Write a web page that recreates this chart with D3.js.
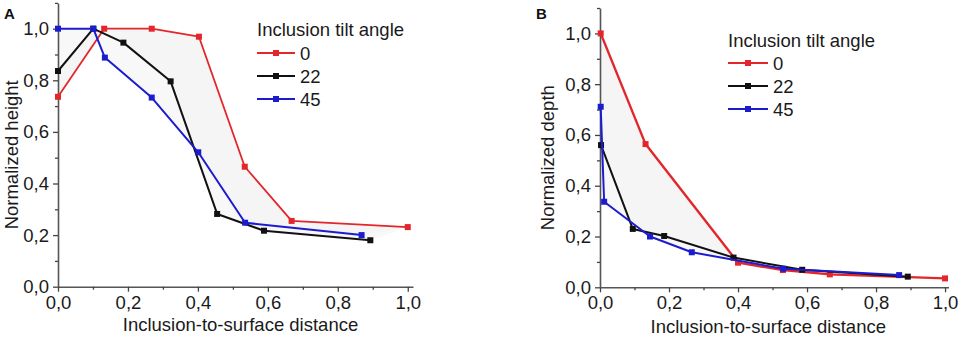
<!DOCTYPE html>
<html><head><meta charset="utf-8">
<script src="https://cdn.jsdelivr.net/npm/d3@7"></script>
<style>body{margin:0;background:#fff}svg{display:block}text{font-family:"Liberation Sans",Arial,sans-serif}</style>
</head><body>
<svg id="c" width="960" height="337"></svg>
<script>
const seriesNames = ["0", "22", "45"];
const seriesColors = ["#e3262b", "#111111", "#1c1ccf"];
const xTicks = [0, 0.2, 0.4, 0.6, 0.8, 1.0];
const yTicks = [0, 0.2, 0.4, 0.6, 0.8, 1.0];
const xMinor = [0.1, 0.3, 0.5, 0.7, 0.9];
const yMinor = [0.1, 0.3, 0.5, 0.7, 0.9, 1.1];

// Panel A: normalized height
const aX0 = [0, 0.132, 0.268, 0.403, 0.534, 0.668, 1.0];
const aY0 = [0.736, 1.0, 1.0, 0.969, 0.465, 0.255, 0.231];
const aX22 = [0, 0.101, 0.187, 0.322, 0.455, 0.589, 0.893];
const aY22 = [0.836, 1.0, 0.946, 0.796, 0.282, 0.217, 0.18];
const aX45 = [0, 0.101, 0.134, 0.268, 0.401, 0.535, 0.868];
const aY45 = [1.0, 1.0, 0.888, 0.733, 0.521, 0.248, 0.2];

// Panel B: normalized depth
const bX0 = [0.002, 0.132, 0.4, 0.53, 0.666, 1.0];
const bY0 = [1.0, 0.564, 0.097, 0.068, 0.051, 0.035];
const bX22 = [0.003, 0.095, 0.186, 0.387, 0.586, 0.892];
const bY22 = [0.56, 0.23, 0.202, 0.117, 0.069, 0.042];
const bX45 = [0.002, 0.012, 0.145, 0.266, 0.531, 0.867];
const bY45 = [0.711, 0.337, 0.2, 0.138, 0.073, 0.048];

const fmt = d => d3.format(".1f")(d).replace(".", ",");
const svg = d3.select("#c");

function zip(xs, ys){ return xs.map((x,i)=>[x, ys[i]]); }

function panel(cfg){
  const g = svg.append("g");
  const x = d3.scaleLinear().domain([0, cfg.xMax]).range(cfg.xr);
  const y = d3.scaleLinear().domain([0, 1.1]).range(cfg.yr);
  const series = cfg.data.map(d => zip(d[0], d[1]));
  const line = d3.line().x(d=>x(d[0])).y(d=>y(d[1]));

  // faint shading between red curve and the others
  [1,2].forEach(k=>{
    const poly = series[0].concat(series[k].slice().reverse());
    g.append("path").attr("d", line(poly)+"Z")
      .attr("fill", "#f2f2f2").attr("fill-opacity", 0.55).attr("stroke", "none");
  });

  // axes
  const ax = g.append("g").attr("transform", `translate(0,${cfg.yr[0]})`)
    .call(d3.axisBottom(x).tickValues(xTicks).tickFormat(fmt).tickSize(5).tickPadding(4).tickSizeOuter(0));
  const axm = g.append("g").attr("transform", `translate(0,${cfg.yr[0]})`)
    .call(d3.axisBottom(x).tickValues(xMinor).tickFormat("").tickSize(3).tickSizeOuter(0));
  const ay = g.append("g").attr("transform", `translate(${cfg.xr[0]},0)`)
    .call(d3.axisLeft(y).tickValues(yTicks).tickFormat(fmt).tickSize(5).tickPadding(4).tickSizeOuter(0));
  const aym = g.append("g").attr("transform", `translate(${cfg.xr[0]},0)`)
    .call(d3.axisLeft(y).tickValues(yMinor).tickFormat("").tickSize(3).tickSizeOuter(0));
  [ax, axm, ay, aym].forEach(a=>{
    a.select(".domain").attr("stroke", "#555").attr("stroke-width", 1.6);
    a.selectAll(".tick line").attr("stroke", "#444").attr("stroke-width", 1.3);
    a.selectAll("text").attr("font-size", 18.5).attr("fill", "#1a1a1a")
      .attr("font-family", '"Liberation Sans",Arial,sans-serif');
  });
  axm.select(".domain").remove(); aym.select(".domain").remove();

  // lines + markers
  series.forEach((s,i)=>{
    g.append("path").attr("d", line(s)).attr("fill","none")
      .attr("stroke", seriesColors[i]).attr("stroke-width", cfg.lw[i]).attr("stroke-linejoin","round");
    g.selectAll(null).data(s).enter().append("rect")
      .attr("x", d=>x(d[0])-3).attr("y", d=>y(d[1])-3).attr("width", 6).attr("height", 6)
      .attr("fill", seriesColors[i]);
  });

  // axis titles
  g.append("text").attr("x", (cfg.xr[0]+cfg.xr[1])/2 + cfg.xtOff).attr("y", cfg.xtY)
    .attr("text-anchor","middle").attr("font-size", 18.5).attr("fill","#1a1a1a").text("Inclusion-to-surface distance");
  g.append("text").attr("transform", `translate(${cfg.ytX},${(cfg.yr[0]+y(1.1))/2 + 10}) rotate(-90)`)
    .attr("text-anchor","middle").attr("font-size", 18.5).attr("fill","#1a1a1a").text(cfg.ytitle);

  // panel letter
  g.append("text").attr("x", cfg.letter[0]).attr("y", cfg.letter[1]).attr("font-weight","bold")
    .attr("font-size", 15).attr("fill","#111").text(cfg.label);

  // legend
  const L = cfg.legend;
  g.append("text").attr("x", L.x).attr("y", L.y).attr("font-size", 18.5).attr("fill","#1a1a1a").text("Inclusion tilt angle");
  seriesNames.forEach((n,i)=>{
    const cy = L.y + L.first + i*L.step;
    g.append("line").attr("x1", L.x).attr("x2", L.x+L.len).attr("y1", cy).attr("y2", cy)
      .attr("stroke", seriesColors[i]).attr("stroke-width", 2);
    g.append("rect").attr("x", L.x+L.len/2-3).attr("y", cy-3).attr("width",6).attr("height",6).attr("fill", seriesColors[i]);
    g.append("text").attr("x", L.x+L.len+5).attr("y", cy).attr("dy","0.36em").attr("font-size", 18.5)
      .attr("fill","#1a1a1a").text(n);
  });
}

panel({
  label: "A", letter: [4, 19],
  xMax: 1.015, xr: [58, 413], yr: [286.7, 2.9],
  data: [[aX0,aY0],[aX22,aY22],[aX45,aY45]],
  lw: [1.8, 2, 2],
  ytitle: "Normalized height", ytX: 18, xtY: 331, xtOff: 5,
  legend: {x: 257, y: 36, first: 17, step: 23, len: 38}
});
panel({
  label: "B", letter: [536, 19],
  xMax: 1.01, xr: [600, 948.5], yr: [287.3, 8],
  data: [[bX0,bY0],[bX22,bY22],[bX45,bY45]],
  lw: [2.4, 2, 2],
  ytitle: "Normalized depth", ytX: 554, xtY: 333, xtOff: -6,
  legend: {x: 728, y: 47, first: 16, step: 23, len: 40}
});
</script>
</body></html>
